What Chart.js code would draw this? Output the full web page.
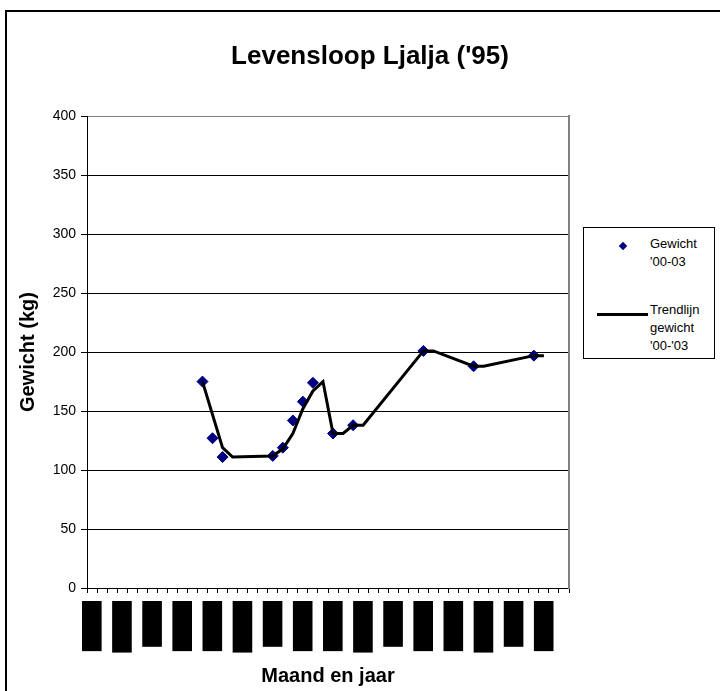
<!DOCTYPE html>
<html>
<head>
<meta charset="utf-8">
<script src="https://cdn.jsdelivr.net/npm/chart.js@4"></script>
<style>
  body { margin: 0; background: #fff; }
  #wrap { position: relative; width: 720px; height: 691px; overflow: hidden; background: #fff; }
  #frame { position: absolute; left: 5px; top: 10px; width: 800px; height: 800px; border: 2px solid #000; }
  #chart { position: absolute; left: 0; top: 0; }
  #legend { position: absolute; left: 583px; top: 227px; width: 130px; height: 130px; border: 1px solid #000;
            background: #fff; font: 13px 'Liberation Sans', Arial, sans-serif; line-height: 18px; color: #000; }
  .text { position: absolute; left: 66px; width: 62px; }
  .marker { position: absolute; }
</style>
</head>
<body>
<div id="wrap">
  <div id="frame"></div>
  <canvas id="chart" width="720" height="691"></canvas>
  <div id="legend"></div>
</div>
<script>
// category axis: one slot per month, jan-00 .. dec-03
const months = ['jan', 'feb', 'mrt', 'apr', 'mei', 'jun', 'jul', 'aug', 'sep', 'okt', 'nov', 'dec'];
const years = ['00', '01', '02', '03'];
const monthLabels = years.flatMap(y => months.map(m => m + '-' + y));

// measured weights
const weightDates = ['dec-00', 'jan-01', 'feb-01', 'jul-01', 'aug-01', 'sep-01', 'okt-01', 'nov-01',
                     'jan-02', 'mrt-02', 'okt-02', 'mrt-03', 'sep-03'];
const weightValues = [175, 127, 111, 112, 119, 142, 158, 174, 131, 138, 201, 188, 197];

// trend line
const trendDates = ['dec-00', 'feb-01', 'mrt-01', 'jul-01', 'aug-01', 'sep-01', 'okt-01', 'nov-01', 'dec-01',
                    'jan-02', 'feb-02', 'mrt-02', 'apr-02', 'okt-02', 'nov-02', 'mrt-03', 'apr-03', 'sep-03', 'okt-03'];
const trendValues = [175, 119, 111, 112, 118, 131, 152, 167, 175, 131, 131, 138, 138, 201, 201, 188, 188, 197, 197];

const seriesNames = ["Gewicht '00-03", "Trendlijn gewicht '00-'03"];

Chart.defaults.font.family = "'Liberation Sans', Arial, sans-serif";
Chart.defaults.color = '#000';

const chart = new Chart(document.getElementById('chart'), {
    type: 'line',
    data: {
        labels: monthLabels,
        datasets: [
            {
                label: seriesNames[0],
                data: weightDates.map((d, i) => ({ x: d, y: weightValues[i] })),
                showLine: false,
                pointStyle: 'rectRot',
                pointRadius: 5.5,
                pointBorderWidth: 1,
                pointBackgroundColor: '#000080',
                pointBorderColor: '#000080',
                order: 1
            },
            {
                label: seriesNames[1],
                data: trendDates.map((d, i) => ({ x: d, y: trendValues[i] })),
                borderColor: '#000',
                borderWidth: 3,
                pointRadius: 0,
                tension: 0,
                fill: false,
                order: 0
            }
        ]
    },
    options: {
        responsive: false,
        animation: false,
        layout: { padding: { left: 20, right: 0, top: 0, bottom: 0 } },
        plugins: {
            legend: { display: false },
            tooltip: { enabled: false },
            title: {
                display: true,
                text: "Levensloop Ljalja ('95)",
                color: '#000',
                font: { size: 26, weight: 'bold' },
                padding: { top: 41, bottom: 44 }
            }
        },
        scales: {
            x: {
                type: 'category',
                offset: true,
                grid: { offset: true, drawOnChartArea: false, tickLength: 5, color: '#000', tickColor: '#000' },
                border: { color: '#000', width: 1 },
                ticks: {
                    autoSkip: false,
                    minRotation: 90,
                    maxRotation: 90,
                    padding: 10,
                    labelOffset: -8,
                    font: { size: 13 },
                    color: '#000',
                    // a label every third month, drawn as a solid black block
                    callback: (v, i) => (i % 3 === 0 ? monthLabels[i] : ''),
                    showLabelBackdrop: ctx => ctx.index % 3 === 0,
                    backdropColor: '#000',
                    backdropPadding: { left: 12, right: 2, top: 2, bottom: 2 }
                },
                title: {
                    display: true,
                    text: 'Maand en jaar',
                    color: '#000',
                    font: { size: 20, weight: 'bold' },
                    padding: { top: 0, bottom: 3 }
                },
                afterFit: s => { s.height = 103; }
            },
            y: {
                min: 0,
                max: 400,
                ticks: { stepSize: 50, padding: 5, color: '#000', font: { size: 14 } },
                grid: {
                    color: ctx => (ctx.tick && ctx.tick.value === 400 ? '#808080' : '#000'),
                    tickColor: '#000',
                    tickLength: 6
                },
                border: { color: '#000', width: 1 },
                title: {
                    display: true,
                    text: 'Gewicht (kg)',
                    color: '#000',
                    font: { size: 20, weight: 'bold' },
                    padding: { top: -4, bottom: 0 }
                },
                afterFit: s => { s.width = 67; }
            },
            y2: {
                position: 'right',
                display: true,
                grid: { drawOnChartArea: false, drawTicks: false },
                ticks: { display: false },
                border: { color: '#808080', width: 2 },
                afterFit: s => { s.width = 151; }
            }
        }
    }
});

// legend box on the right, built from the datasets
const legend = document.getElementById('legend');
const w = chart.data.datasets[0];
const t = chart.data.datasets[1];
legend.innerHTML =
    '<div class="marker" style="left:35.5px;top:14.5px;width:6px;height:6px;transform:rotate(45deg);background:' +
    w.pointBackgroundColor + '"></div>' +
    '<div class="text" style="top:7px">' + w.label + '</div>' +
    '<div class="marker" style="left:13px;top:84.5px;width:51px;height:3px;background:' + t.borderColor + '"></div>' +
    '<div class="text" style="top:73px">' + t.label + '</div>';
</script>
</body>
</html>
